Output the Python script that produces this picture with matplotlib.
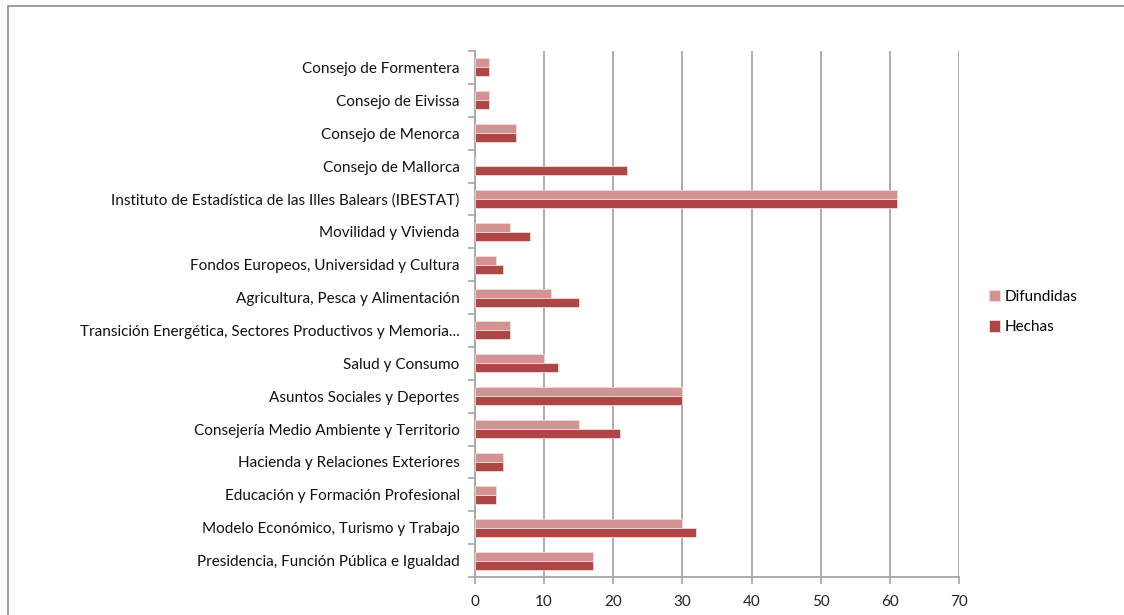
import numpy as np
import matplotlib.pyplot as plt
from matplotlib.patches import Rectangle

# categories from bottom to top
categories = [
    "Presidencia, Función Pública e Igualdad",
    "Modelo Económico, Turismo y Trabajo",
    "Educación y Formación Profesional",
    "Hacienda y Relaciones Exteriores",
    "Consejería Medio Ambiente y Territorio",
    "Asuntos Sociales y Deportes",
    "Salud y Consumo",
    "Transición Energética, Sectores Productivos y Memoria...",
    "Agricultura, Pesca y Alimentación",
    "Fondos Europeos, Universidad y Cultura",
    "Movilidad y Vivienda",
    "Instituto de Estadística de las Illes Balears (IBESTAT)",
    "Consejo de Mallorca",
    "Consejo de Menorca",
    "Consejo de Eivissa",
    "Consejo de Formentera",
]
difundidas = [17, 30, 3, 4, 15, 30, 10, 5, 11, 3, 5, 61, 0, 6, 2, 2]
hechas = [17, 32, 3, 4, 21, 30, 12, 5, 15, 4, 8, 61, 22, 6, 2, 2]
x_ticks = [0, 10, 20, 30, 40, 50, 60, 70]

COL_D = "#D39392"
COL_H = "#AD4644"
GRID = "#A6A6A6"

plt.rcParams["font.family"] = ["Lato", "DejaVu Sans"]

W, H = 1124, 615
fig = plt.figure(figsize=(W / 100, H / 100), dpi=100)

# chart area frame
fig.patches.append(Rectangle((8 / W, -0.05), 1.2, 1 - 6 / H + 0.05,
                             transform=fig.transFigure, fill=False,
                             edgecolor="#8C8C8C", linewidth=1.2))

ax = fig.add_axes([475 / W, 1 - 577 / H, (959 - 475) / W, (577 - 51) / H])

y = np.arange(len(categories))
bh = 0.275
ax.barh(y + bh / 2, difundidas, height=bh, color=COL_D, edgecolor="#F2DCDB",
        linewidth=0.6, label="Difundidas", zorder=3)
ax.barh(y - bh / 2, hechas, height=bh, color=COL_H, edgecolor="#F2DCDB",
        linewidth=0.6, label="Hechas", zorder=3)

ax.set_xlim(0, 70)
ax.set_ylim(-0.5, len(categories) - 0.5)
ax.set_xticks(x_ticks)
ax.set_xticklabels([str(t) for t in x_ticks], fontsize=11, color="#222222")
ax.set_yticks(y)
ax.set_yticklabels(categories, fontsize=11, color="#111111")
ax.set_yticks(np.arange(-0.5, len(categories), 1), minor=True)

ax.tick_params(axis="y", which="major", length=0, pad=11)
ax.tick_params(axis="y", which="minor", length=5, color=GRID, width=1.2)
ax.tick_params(axis="x", which="major", length=5, color=GRID, width=1.2, pad=8)

ax.grid(axis="x", color=GRID, linewidth=1.3, zorder=0)
for s in ["top", "right"]:
    ax.spines[s].set_visible(False)
for s in ["left", "bottom"]:
    ax.spines[s].set_color(GRID)
    ax.spines[s].set_linewidth(1.3)

ax.legend(loc="center left", bbox_to_anchor=(975 / W, 1 - 312 / H),
          bbox_transform=fig.transFigure, frameon=False, fontsize=11,
          handlelength=0.75, handleheight=0.75, handletextpad=0.3,
          labelspacing=1.1)

fig.savefig("out.png", dpi=100)
